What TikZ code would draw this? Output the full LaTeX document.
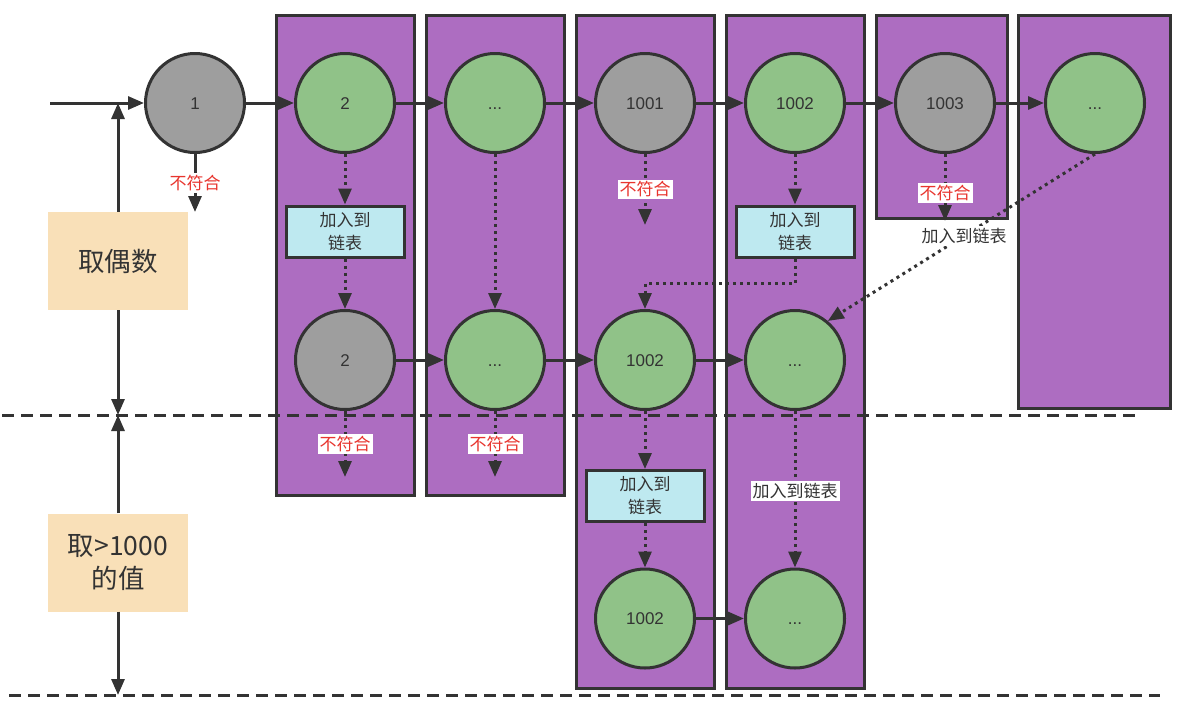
\documentclass[tikz,border=0pt]{standalone}
\usepackage{fontspec}
\setmainfont{Noto Sans CJK SC}
\newfontfamily\numfont{Liberation Sans}
\usetikzlibrary{arrows.meta}
\definecolor{purp}{HTML}{AD6DC1}
\definecolor{gnode}{HTML}{90C288}
\definecolor{ynode}{HTML}{9E9E9E}
\definecolor{lblue}{HTML}{BEE9F0}
\definecolor{tanc}{HTML}{F9E0B8}
\definecolor{edge}{HTML}{333333}
\definecolor{redt}{HTML}{E8352E}
\tikzset{
  colbox/.style={draw=edge, line width=3pt, fill=purp, inner sep=0pt},
  circ/.style={circle, draw=edge, line width=3pt, minimum size=99pt, inner sep=0pt, text=edge, text height=12.2pt, text depth=0pt, font=\numfont\fontsize{17}{19}\selectfont},
  gcirc/.style={circ, fill=gnode},
  ycirc/.style={circ, fill=ynode},
  bluebox/.style={draw=edge, line width=3pt, fill=lblue, minimum width=118pt, minimum height=51pt, align=center, text=edge, inner sep=0pt, font=\fontsize{17}{23}\selectfont},
  tanbox/.style={fill=tanc, minimum width=140pt, minimum height=98pt, align=center, text=edge, inner sep=0pt, font=\fontsize{26.5}{33}\selectfont},
  arr/.style={draw=edge, line width=3pt, -{Triangle[length=16pt,width=13pt]}},
  dotarr/.style={arr, dash pattern=on 3pt off 4pt},
  redlbl/.style={fill=white, text=redt, inner sep=2pt, font=\fontsize{17}{19}\selectfont},
  whitelbl/.style={fill=white, text=edge, inner sep=2pt, font=\fontsize{17}{19}\selectfont},
  dashline/.style={draw=edge, line width=3pt, dash pattern=on 12pt off 7pt},
}
\begin{document}
\begin{tikzpicture}[x=1pt,y=-1pt]
\useasboundingbox (0,0) rectangle (1196,718);
% columns
\node[colbox, minimum width=138pt, minimum height=480pt] (k1) at (345,255) {};
\node[colbox, minimum width=138pt, minimum height=480pt] (k2) at (495,255) {};
\node[colbox, minimum width=138pt, minimum height=673pt] (k3) at (645,351.5) {};
\node[colbox, minimum width=138pt, minimum height=673pt] (k4) at (795,351.5) {};
\node[colbox, minimum width=131pt, minimum height=203pt] (k5) at (941.5,116.5) {};
\node[colbox, minimum width=152pt, minimum height=393pt] (k6) at (1094,211.5) {};
% dashed separators
\coordinate (da) at (2,415);
\coordinate (db) at (1135,415);
\coordinate (dc) at (9,695);
\coordinate (dd) at (1160,695);
\draw[dashline] (da) -- (db);
\draw[dashline] (dc) -- (dd);
% tan boxes
\node[tanbox] (t1) at (118,261) {取偶数};
\node[tanbox] (t2) at (118,562.5) {取>1000\\的值};
% circles
\node[ycirc] (c1) at (195,103) {1};
\node[gcirc] (c2) at (345,103) {2};
\node[gcirc] (c3) at (495,103) {...};
\node[ycirc] (c4) at (645,103) {1001};
\node[gcirc] (c5) at (795,103) {1002};
\node[ycirc] (c6) at (945,103) {1003};
\node[gcirc] (c7) at (1095,103) {...};
\node[ycirc] (d2) at (345,360) {2};
\node[gcirc] (d3) at (495,360) {...};
\node[gcirc] (d4) at (645,360) {1002};
\node[gcirc] (d5) at (795,360) {...};
\node[gcirc] (e4) at (645,618.5) {1002};
\node[gcirc] (e5) at (795,618.5) {...};
% blue boxes
\node[bluebox] (b1) at (345,231.5) {加入到\\链表};
\node[bluebox] (b2) at (795,231.5) {加入到\\链表};
\node[bluebox] (b3) at (645,496) {加入到\\链表};
% left axis arrows
\coordinate (start) at (50,103);
\coordinate (vtop) at (118,103);
\coordinate (vmid) at (118,415);
\coordinate (vbot) at (118,695);
\draw[arr] (start) -- (c1);
\draw[arr] (t1.north) -- (vtop);
\draw[arr] (t1.south) -- (vmid);
\draw[arr] (t2.north) -- (vmid);
\draw[arr] (t2.south) -- (vbot);
% top row
\draw[arr] (c1) -- (c2);
\draw[arr] (c2) -- (c3);
\draw[arr] (c3) -- (c4);
\draw[arr] (c4) -- (c5);
\draw[arr] (c5) -- (c6);
\draw[arr] (c6) -- (c7);
% second row
\draw[arr] (d2) -- (d3);
\draw[arr] (d3) -- (d4);
\draw[arr] (d4) -- (d5);
% third row
\draw[arr] (e4) -- (e5);
% rejections
\coordinate (r1) at (195,212);
\coordinate (r4) at (645,225);
\coordinate (r6) at (945,221);
\coordinate (r2) at (345,477);
\coordinate (r3) at (495,477);
\draw[arr] (c1.south) -- (r1) node[midway, redlbl] {不符合};
\draw[dotarr] (c4.south) -- (r4) node[midway, redlbl] {不符合};
\draw[dotarr] (c6.south) -- (r6) node[pos=0.58, redlbl] {不符合};
\draw[dotarr] (d2.south) -- (r2) node[midway, redlbl] {不符合};
\draw[dotarr] (d3.south) -- (r3) node[midway, redlbl] {不符合};
% additions
\draw[dotarr] (c2.south) -- (b1.north);
\draw[dotarr] (b1.south) -- (d2.north);
\draw[dotarr] (c3.south) -- (d3.north);
\draw[dotarr] (c5.south) -- (b2.north);
\coordinate (bend1) at (795,283);
\coordinate (bend2) at (645,283);
\draw[dotarr] (b2.south) -- (bend1) -- (bend2) -- (d4.north);
\draw[dotarr] (c7.south) -- (d5.50) node[pos=0.49, whitelbl] {加入到链表};
\draw[dotarr] (d4.south) -- (b3.north);
\draw[dotarr] (b3.south) -- (e4.north);
\draw[dotarr] (d5.south) -- (e5.north) node[pos=0.51, whitelbl] {加入到链表};
\end{tikzpicture}
\end{document}
